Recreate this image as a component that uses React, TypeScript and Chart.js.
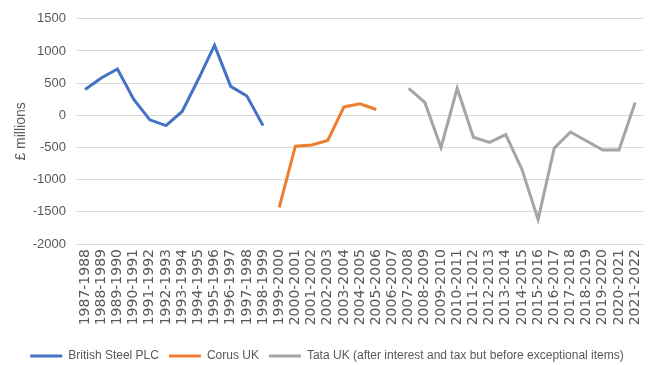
import React, { useEffect, useRef } from "react";
import { Chart, registerables } from "chart.js";

Chart.register(...registerables);

const categories = [
  "1987-1988", "1988-1989", "1989-1990", "1990-1991", "1991-1992", "1992-1993", "1993-1994",
  "1994-1995", "1995-1996", "1996-1997", "1997-1998", "1998-1999", "1999-2000", "2000-2001",
  "2001-2002", "2002-2003", "2003-2004", "2004-2005", "2005-2006", "2006-2007", "2007-2008",
  "2008-2009", "2009-2010", "2010-2011", "2011-2012", "2012-2013", "2013-2014", "2014-2015",
  "2015-2016", "2016-2017", "2017-2018", "2018-2019", "2019-2020", "2020-2021", "2021-2022",
];

const britishSteel = [400, 580, 720, 250, -70, -160, 60, 560, 1090, 450, 300, -160];
const corus = [-1430, -480, -460, -390, 130, 180, 90];
const tata = [420, 200, -500, 420, -340, -420, -300, -840, -1620, -510, -260, -400, -540, -540, 200];

const yTicks = [1500, 1000, 500, 0, -500, -1000, -1500, -2000];

function place(values: number[], start: number): (number | null)[] {
  const out: (number | null)[] = categories.map(() => null);
  values.forEach((v, i) => (out[start + i] = v));
  return out;
}

const shiftLegend = {
  id: "shiftLegend",
  afterLayout(chart: any) {
    const l = chart.legend;
    if (l) {
      l.top += 7;
      l.bottom += 7;
    }
  },
};

export default function App() {
  const ref = useRef<HTMLCanvasElement>(null);
  useEffect(() => {
    document.body.style.margin = "0";
    const ctx = ref.current!;
    const chart = new Chart(ctx, {
      type: "line",
      data: {
        labels: categories,
        datasets: [
          { label: "British Steel PLC", data: place(britishSteel, 0), borderColor: "#4472C4", backgroundColor: "#4472C4" },
          { label: "Corus UK", data: place(corus, 12), borderColor: "#ED7D31", backgroundColor: "#ED7D31" },
          { label: "Tata UK (after interest and tax but before exceptional items)", data: place(tata, 20), borderColor: "#A5A5A5", backgroundColor: "#A5A5A5" },
        ].map((d) => ({ ...d, borderWidth: 3, pointRadius: 0, tension: 0, spanGaps: false, fill: false })),
      },
      plugins: [shiftLegend],
      options: {
        animation: false,
        responsive: false,
        maintainAspectRatio: false,
        layout: { padding: { top: 10, right: 3, left: 0, bottom: 0 } },
        plugins: {
          tooltip: { enabled: false },
          legend: {
            position: "bottom",
            labels: {
              boxWidth: 32,
              boxHeight: 3,
              padding: 10,
              color: "#595959",
              font: { family: "'Liberation Sans', sans-serif", size: 12 },
              generateLabels: (c: any) =>
                c.data.datasets.map((d: any, i: number) => ({
                  text: d.label,
                  fillStyle: d.borderColor,
                  strokeStyle: d.borderColor,
                  lineWidth: 0,
                  hidden: false,
                  datasetIndex: i,
                  fontColor: "#595959",
                })),
            },
          },
        },
        scales: {
          x: {
            offset: true,
            grid: { display: false, drawTicks: false },
            border: { display: false },
            afterFit: (s: any) => {
              s.height = 89;
            },
            ticks: {
              autoSkip: false,
              maxRotation: 90,
              minRotation: 90,
              padding: 5,
              color: "#595959",
              font: { family: "'DejaVu Sans', sans-serif", size: 14 },
            },
          },
          y: {
            min: -2000,
            max: 1500,
            afterBuildTicks: (s: any) => {
              s.ticks = yTicks.map((v) => ({ value: v }));
            },
            afterFit: (s: any) => {
              s.width = 77;
            },
            grid: { color: "#D9D9D9", lineWidth: 1, drawTicks: false },
            border: { display: false },
            ticks: {
              padding: 11,
              color: "#595959",
              font: { family: "'Liberation Sans', sans-serif", size: 13 },
              callback: (v: any) => String(v),
            },
            title: {
              display: true,
              text: "£ millions",
              color: "#595959",
              padding: { top: 13, bottom: 0 },
              font: { family: "'Liberation Sans', sans-serif", size: 14 },
            },
          },
        },
      },
    });
    return () => chart.destroy();
  }, []);
  return (
    <div style={{ width: 657, height: 365, background: "#fff" }}>
      <canvas ref={ref} width={657} height={365} style={{ display: "block" }} />
    </div>
  );
}
